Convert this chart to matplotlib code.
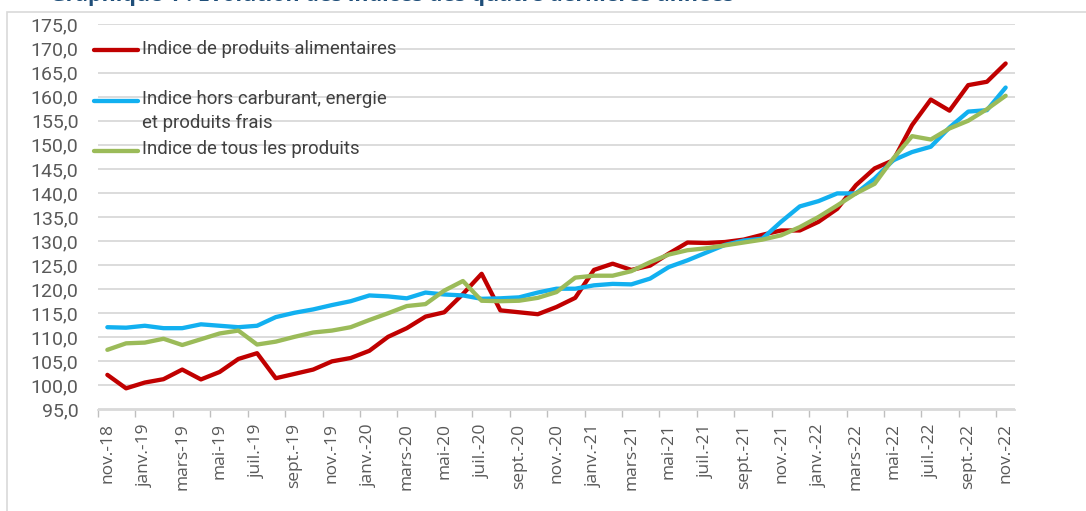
import numpy as np
import matplotlib
matplotlib.use("Agg")
import matplotlib.pyplot as plt
from matplotlib.lines import Line2D
from matplotlib.patches import Rectangle

# monthly values, nov.-18 .. nov.-22
alimentaires = [102.2, 99.4, 100.6, 101.3, 103.3, 101.25, 102.8, 105.5, 106.7, 101.5, 102.4, 103.3,
                105.0, 105.7, 107.2, 110.1, 111.9, 114.3, 115.2, 119.0, 123.2, 115.6, 115.2, 114.8,
                116.3, 118.2, 124.0, 125.3, 124.0, 124.9, 127.4, 129.7, 129.6, 129.8, 130.3, 131.3,
                132.2, 132.2, 134.0, 136.7, 141.6, 145.1, 146.8, 154.1, 159.4, 157.1, 162.4, 163.1, 166.9]
hors_carburant = [112.1, 112.0, 112.4, 111.9, 111.9, 112.7, 112.4, 112.1, 112.4, 114.2, 115.1, 115.8,
                  116.7, 117.5, 118.7, 118.5, 118.1, 119.3, 118.9, 118.7, 118.0, 118.1, 118.3, 119.3,
                  120.1, 120.1, 120.8, 121.1, 121.0, 122.2, 124.6, 126.0, 127.6, 129.2, 130.1, 130.5,
                  134.0, 137.2, 138.3, 139.9, 139.9, 143.0, 146.8, 148.5, 149.6, 153.6, 156.9, 157.2, 161.9]
tous_produits = [107.4, 108.75, 108.9, 109.7, 108.4, 109.6, 110.8, 111.4, 108.5, 109.1, 110.1, 111.0,
                 111.4, 112.1, 113.6, 115.0, 116.5, 116.9, 119.7, 121.7, 117.6, 117.5, 117.6, 118.2,
                 119.4, 122.4, 122.8, 122.8, 123.75, 125.6, 127.2, 128.1, 128.5, 129.1, 129.7, 130.3,
                 131.2, 132.9, 135.0, 137.4, 139.9, 141.9, 147.2, 151.8, 151.1, 153.4, 155.0, 157.4, 160.2]

tick_labels = ["nov.-18", "janv.-19", "mars-19", "mai-19", "juil.-19", "sept.-19",
               "nov.-19", "janv.-20", "mars-20", "mai-20", "juil.-20", "sept.-20",
               "nov.-20", "janv.-21", "mars-21", "mai-21", "juil.-21", "sept.-21",
               "nov.-21", "janv.-22", "mars-22", "mai-22", "juil.-22", "sept.-22", "nov.-22"]

series_names = ["Indice de produits alimentaires",
                "Indice hors carburant, energie\net produits frais",
                "Indice de tous les produits"]
colors = ["#C00000", "#12B0F0", "#9BBB59"]

W, H = 1086, 511
fig = plt.figure(figsize=(W / 100, H / 100), dpi=100)

def fx(px):
    return px / W

def fy(py):
    return 1 - py / H

narrow = ["Liberation Sans Narrow", "Roboto", "DejaVu Sans"]

# outer frame and title (cut at the top edge, as in the source)
fig.add_artist(Rectangle((fx(7), fy(H + 5)), fx(W + 10) - fx(7), fy(12) - fy(H + 5),
                         transform=fig.transFigure, fill=False, edgecolor="#D9D9D9", lw=1.2))
fig.text(fx(50), fy(1.5), "Graphique 1 : Evolution des indices des quatre dernières années",
         color="#1F4E79", fontsize=15.5, fontweight="bold", va="baseline", ha="left",
         family=["Open Sans", "DejaVu Sans"])

ax = fig.add_axes([fx(98), fy(409.5), fx(1015) - fx(98), fy(24.5) - fy(409.5)])

x = np.arange(len(alimentaires))
for vals, c in zip([alimentaires, hors_carburant, tous_produits], colors):
    ax.plot(x, vals, color=c, lw=3.1, solid_capstyle="round", solid_joinstyle="round", zorder=3)

ax.set_xlim(-0.5, len(x) - 0.5)
ax.set_ylim(95, 175)
yt = np.arange(95, 176, 5)
ax.set_yticks(yt)
ax.set_yticklabels([f"{v:.1f}".replace(".", ",") for v in yt], family=narrow,
                   fontsize=14, color="#595959")
ax.tick_params(axis="y", length=0, pad=14)
ax.grid(axis="y", color="#D9D9D9", lw=1.3, zorder=0)

# tick marks between categories, labels at category centres
ax.set_xticks(np.arange(-0.5, len(x) - 0.5, 2))
ax.set_xticklabels([])
ax.set_xticks(np.arange(0, len(x), 2), minor=True)
ax.set_xticklabels(tick_labels, minor=True, rotation=90, family=["Open Sans", "DejaVu Sans"],
                   fontsize=12.5, color="#595959", va="top")
ax.tick_params(axis="x", which="major", length=5, color="#BFBFBF", width=1)
ax.tick_params(axis="x", which="minor", length=0, pad=10)

for s in ["top", "right", "left"]:
    ax.spines[s].set_visible(False)
ax.spines["bottom"].set_color("#D9D9D9")
ax.spines["bottom"].set_linewidth(1.3)

# legend drawn by hand to keep the handle on the first text line
leg_y = [50.5, 101.5, 151.5]
for name, c, py in zip(series_names, colors, leg_y):
    fig.add_artist(Line2D([fx(94), fx(138)], [fy(py), fy(py)], transform=fig.transFigure,
                          color=c, lw=3.1, solid_capstyle="round"))
    fig.text(fx(142), fy(py - 11), name, family=narrow, fontsize=13.4, color="#404040",
             va="top", ha="left", linespacing=1.4)

fig.savefig("out.png", dpi=100)
